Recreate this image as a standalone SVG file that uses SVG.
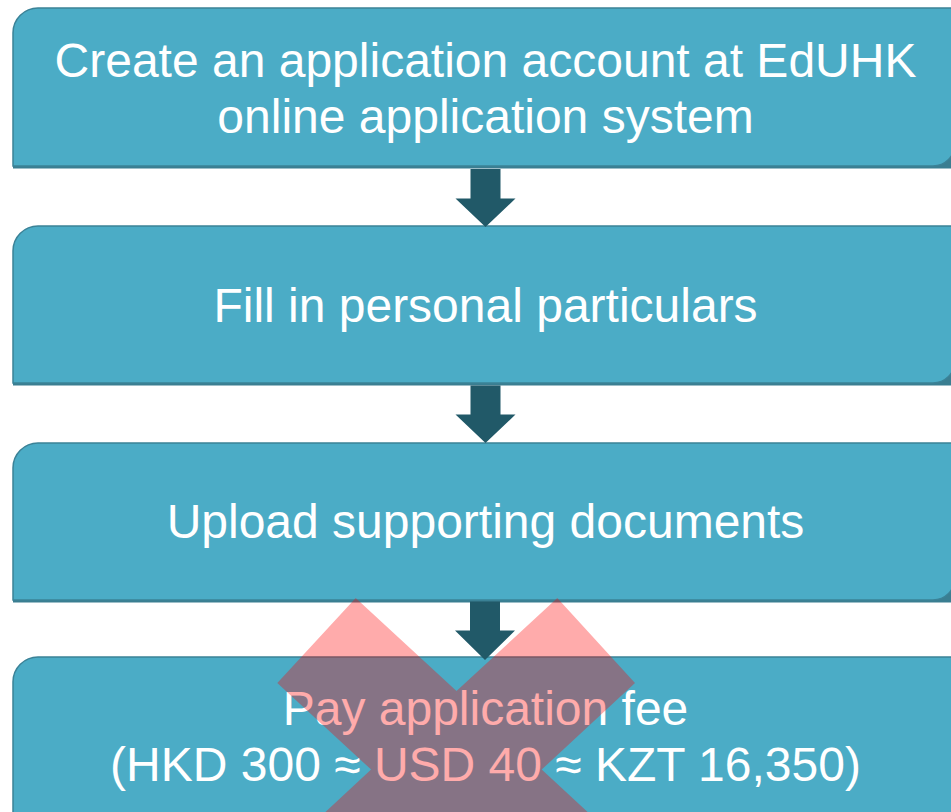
<svg xmlns="http://www.w3.org/2000/svg" width="951" height="812" viewBox="0 0 951 812">
  <defs>
    <style>
      .box { fill: #4BACC6; stroke: #3B8297; stroke-width: 1.5; }
      .shadow { fill: #3A7E91; }
      .arrow { fill: #215968; }
      .label { fill: #FFFFFF; font-family: "Liberation Sans", Arial, sans-serif; font-size: 48px; text-anchor: middle; }
      .cross { fill: #FF0000; fill-opacity: 0.33; }
    </style>
  </defs>
  <rect width="951" height="812" fill="#FFFFFF"/>

  <g id="step1">
    <path class="shadow" d="M13,35 A25,25 0 0 1 38,10 H955 V168.5 H13 Z"/>
    <path class="box" d="M13,33 A25,25 0 0 1 38,8 H955 V144 A22,22 0 0 1 933,166 H13 Z"/>
    <text class="label" x="485.5" y="77">Create an application account at EdUHK</text>
    <text class="label" x="485.5" y="133">online application system</text>
  </g>

  <g id="step2">
    <path class="shadow" d="M13,253 A25,25 0 0 1 38,228 H955 V385.5 H13 Z"/>
    <path class="box" d="M13,251 A25,25 0 0 1 38,226 H955 V361 A22,22 0 0 1 933,383 H13 Z"/>
    <text class="label" x="485.5" y="322">Fill in personal particulars</text>
  </g>

  <g id="step3">
    <path class="shadow" d="M13,470 A25,25 0 0 1 38,445 H955 V602.5 H13 Z"/>
    <path class="box" d="M13,468 A25,25 0 0 1 38,443 H955 V578 A22,22 0 0 1 933,600 H13 Z"/>
    <text class="label" x="485.5" y="538">Upload supporting documents</text>
  </g>

  <g id="step4">
    <path class="box" d="M13,682 A25,25 0 0 1 38,657 H955 V830 H13 Z"/>
    <text class="label" x="485.5" y="725">Pay application fee</text>
    <text class="label" x="485.5" y="781">(HKD 300 ≈ USD 40 ≈ KZT 16,350)</text>
  </g>

  <g id="connectors">
    <path class="arrow" d="M470.5,169 H500.5 V198.5 H515.5 L485.5,227 L455.5,198.5 H470.5 Z"/>
    <path class="arrow" d="M470.5,385.5 H500.5 V414.5 H515.5 L485.5,443 L455.5,414.5 H470.5 Z"/>
    <path class="arrow" d="M470,601.5 H500 V630.5 H515 L485,660 L455,630.5 H470 Z"/>
  </g>

  <g id="cross">
    <polygon class="cross" points="355.7,598 456.5,691 557.3,598 635,683 541.7,769.6 635.5,856.2 557.1,941.2 456.4,848.2 355.5,941.2 277.8,856.2 371.1,769.6 277.3,683"/>
  </g>
</svg>
